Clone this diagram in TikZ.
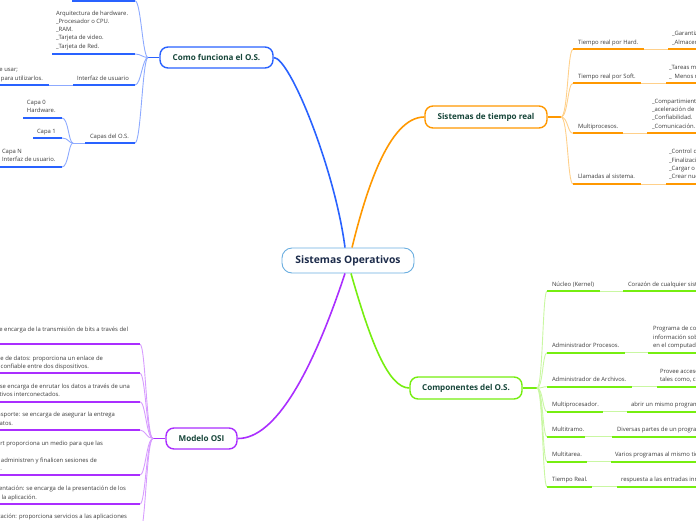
\documentclass[tikz,border=0pt]{standalone}
\usepackage{fontspec}
\setmainfont{Open Sans}
\usetikzlibrary{calc}
\definecolor{bluec}{HTML}{2962FF}
\definecolor{bluel}{HTML}{8DAAFF}
\definecolor{orc}{HTML}{FF9800}
\definecolor{orl}{HTML}{FFD08A}
\definecolor{grc}{HTML}{76EE10}
\definecolor{grl}{HTML}{C9F7A2}
\definecolor{puc}{HTML}{AA2EFF}
\definecolor{pul}{HTML}{D79CFF}
\definecolor{centc}{HTML}{6AAEE0}
\definecolor{centt}{HTML}{1C2B4A}
\definecolor{brtxt}{HTML}{17463A}
\definecolor{smtxt}{HTML}{3C3C3C}
\begin{document}
\begin{tikzpicture}[x=1pt,y=-1pt,
  central/.style={draw=centc, fill=white, line width=0.9pt, rounded corners=10pt,
    minimum width=132pt, minimum height=25pt, inner sep=0pt,
    font=\fontsize{10.3}{12}\selectfont\bfseries, text=centt},
  branch/.style={fill=white, rounded corners=8pt, line width=1.4pt, inner sep=0pt,
    font=\fontsize{8.1}{10}\selectfont\bfseries, text=brtxt},
  sm/.style={font=\fontsize{5.9}{8.3}\selectfont, text=smtxt, inner sep=0pt, outer sep=0pt},
  lw/.style={sm, anchor=base west},
  le/.style={sm, anchor=base east},
  mainlink/.style={line width=1.6pt},
  ul/.style={line width=2pt},
  thinl/.style={line width=0.9pt}]
\useasboundingbox (0,0) rectangle (696,520);
\clip (0,0) rectangle (696,520);

% ---------- nodes (main) ----------
\node[central] (c) at (348,260.5) {Sistemas Operativos};
\node[branch, draw=bluec, minimum width=113pt, minimum height=21pt] (cf) at (216.5,57.5) {Como funciona el O.S.};
\node[branch, draw=orc, minimum width=122pt, minimum height=22pt] (st) at (486,117) {Sistemas de tiempo real};
\node[branch, draw=grc, minimum width=112pt, minimum height=22pt] (co) at (466,388) {Componentes del O.S.};
\node[branch, draw=puc, minimum width=71pt, minimum height=21pt] (mo) at (201.5,438.5) {Modelo OSI};

% ---------- main links ----------
\draw[mainlink, bluec] ($(c.north)+(-3,0)$) .. controls (335,170) and (290,57.5) .. (cf.east);
\draw[mainlink, orc] ($(c.north)+(4,0)$) .. controls (365,195) and (388,117) .. (st.west);
\draw[mainlink, grc] ($(c.south)+(3,0)$) .. controls (370,340) and (388,388) .. (co.west);
\draw[mainlink, puc] ($(c.south)+(-3,0)$) .. controls (312,373) and (275,439) .. (mo.east);

% ---------- Como funciona el O.S. ----------
\coordinate (hb) at (148,57.5);
\draw[line width=1.4pt, bluec] (cf.west) -- (hb);
\foreach \y in {0.8,54,85,143}
  \draw[thinl, bluel] (hb) .. controls (142.5,57.5) and (141,\y) .. (135,\y);
\draw[ul, bluec] (72,0.8) -- (135,0.8);
\draw[ul, bluec] (52,54) -- (135,54);
\draw[ul, bluec] (73,85) -- (135,85);
\draw[ul, bluec] (85,143) -- (135,143);
\node[lw] (hw1) at (56,15) {Arquitectura de hardware.};
\node[lw] (hw2) at (56,23.3) {\_Procesador o CPU.};
\node[lw] (hw3) at (56,31.6) {\_RAM.};
\node[lw] (hw4) at (56,39.9) {\_Tarjeta de video.};
\node[lw] (hw5) at (56,48.2) {\_Tarjeta de Red.};
\node[lw] (iu) at (77,80) {Interfaz de usuario};
\draw[thinl, bluel] (73,85) -- (49,85);
\draw[ul, bluec] (49,85) -- (-2,85);
\node[le] (iu1) at (18,71.7) {Permite al usuario la facilidad de usar;};
\node[le] (iu2) at (43,80) {los programas para utilizarlos.};
\node[lw] (cp) at (90,138) {Capas del O.S.};
\draw[thinl, bluel] (85,143) -- (73,143);
\foreach \y in {118,138,167}
  \draw[thinl, bluel] (73,143) .. controls (68.5,143) and (68.5,\y) .. (62,\y);
\draw[ul, bluec] (23,118) -- (62,118);
\draw[ul, bluec] (33,138) -- (62,138);
\draw[ul, bluec] (-2,167) -- (62,167);
\node[lw] (c0a) at (27,104.5) {Capa 0};
\node[lw] (c0b) at (27,112.8) {Hardware.};
\node[lw] (c1) at (37,133) {Capa 1};
\node[lw] (cna) at (2,153.5) {Capa N};
\node[lw] (cnb) at (2,161.8) {Interfaz de usuario.};

% ---------- Sistemas de tiempo real ----------
\coordinate (ho) at (561,117);
\draw[line width=1.4pt, orc] (st.east) -- (ho);
\foreach \y in {49.3,83.3,133.3,184}
  \draw[thinl, orl] (ho) .. controls (568,117) and (567.5,\y) .. (573,\y);
\draw[ul, orc] (573,49.3) -- (644,49.3);  \draw[thinl, orl] (644,49.3) -- (668,49.3);  \draw[ul, orc] (668,49.3) -- (700,49.3);
\draw[ul, orc] (573,83.3) -- (641,83.3);  \draw[thinl, orl] (641,83.3) -- (666,83.3);  \draw[ul, orc] (666,83.3) -- (700,83.3);
\draw[ul, orc] (573,133.3) -- (623,133.3); \draw[thinl, orl] (623,133.3) -- (647,133.3); \draw[ul, orc] (647,133.3) -- (700,133.3);
\draw[ul, orc] (573,184) -- (641,184);    \draw[thinl, orl] (641,184) -- (666,184);    \draw[ul, orc] (666,184) -- (700,184);
\node[lw] (th) at (578,44) {Tiempo real por Hard.};
\node[lw] (th1) at (672,35.7) {\_Garantiza};
\node[lw] (th2) at (672,44) {\_Almacenamiento};
\node[lw] (ts) at (578,78) {Tiempo real por Soft.};
\node[lw] (ts1) at (669,69.7) {\_Tareas menos};
\node[lw] (ts2) at (669,78) {\_\ \ Menos restrictivo.};
\node[lw] (mp) at (578,128) {Multiprocesos.};
\node[lw] (mp1) at (652,103) {\_Compartimiento de recursos.};
\node[lw] (mp2) at (652,111.3) {\_aceleración de cálculos.};
\node[lw] (mp3) at (652,119.6) {\_Confiabilidad.};
\node[lw] (mp4) at (652,128) {\_Comunicación.};
\node[lw] (ll) at (578,178.7) {Llamadas al sistema.};
\node[lw] (ll1) at (669,153.8) {\_Control de procesos.};
\node[lw] (ll2) at (669,162.1) {\_Finalización};
\node[lw] (ll3) at (669,170.4) {\_Cargar o ejecutar.};
\node[lw] (ll4) at (669,178.7) {\_Crear nuevos procesos.};

% ---------- Componentes del O.S. ----------
\coordinate (hg) at (537,388);
\draw[line width=1.4pt, grc] (co.east) -- (hg);
\foreach \y in {291,352.7,386.7,411.7,436.7,461.7,486.7}
  \draw[thinl, grl] (hg) .. controls (543,388) and (542.5,\y) .. (547,\y);
\draw[ul, grc] (547,291) -- (600,291);     \draw[thinl, grl] (600,291) -- (623,291);     \draw[ul, grc] (623,291) -- (700,291);
\draw[ul, grc] (547,352.7) -- (625,352.7); \draw[thinl, grl] (625,352.7) -- (648,352.7); \draw[ul, grc] (648,352.7) -- (700,352.7);
\draw[ul, grc] (547,386.7) -- (632,386.7); \draw[thinl, grl] (632,386.7) -- (657,386.7); \draw[ul, grc] (657,386.7) -- (700,386.7);
\draw[ul, grc] (547,411.7) -- (603,411.7); \draw[thinl, grl] (603,411.7) -- (627,411.7); \draw[ul, grc] (627,411.7) -- (700,411.7);
\draw[ul, grc] (547,436.7) -- (585,436.7); \draw[thinl, grl] (585,436.7) -- (612,436.7); \draw[ul, grc] (612,436.7) -- (700,436.7);
\draw[ul, grc] (547,461.7) -- (587,461.7); \draw[thinl, grl] (587,461.7) -- (611,461.7); \draw[ul, grc] (611,461.7) -- (700,461.7);
\draw[ul, grc] (547,486.7) -- (592,486.7); \draw[thinl, grl] (592,486.7) -- (617,486.7); \draw[ul, grc] (617,486.7) -- (700,486.7);
\node[lw] (nk) at (552,286) {Núcleo (Kernel)};
\node[lw] (nk1) at (628,286) {Corazón de cualquier sistema operativo.};
\node[lw] (ap) at (552,347.7) {Administrador Procesos.};
\node[lw] (ap1) at (653,330.5) {Programa de control que};
\node[lw] (ap2) at (653,339.1) {información sobre los procesos};
\node[lw] (ap3) at (653,347.7) {en el computador.};
\node[lw] (aa) at (552,381.7) {Administrador de Archivos.};
\node[lw] (aa1) at (660,373.4) {Provee acceso a los archivos,};
\node[lw] (aa2) at (660,381.7) {tales como, crear y eliminar.};
\node[lw] (mu) at (552,406.7) {Multiprocesador.};
\node[lw] (mu1) at (631,406.7) {abrir un mismo programa en varios procesadores.};
\node[lw] (mt) at (552,431.7) {Multitramo.};
\node[lw] (mt1) at (617,431.7) {Diversas partes de un programa al mismo tiempo.};
\node[lw] (ma) at (552,456.7) {Multitarea.};
\node[lw] (ma1) at (615,456.7) {Varios programas al mismo tiempo.};
\node[lw] (tr) at (552,481.7) {Tiempo Real.};
\node[lw] (tr1) at (621,481.7) {respuesta a las entradas inmediatas.};

% ---------- Modelo OSI ----------
\coordinate (hp) at (153,438.5);
\draw[line width=1.4pt, puc] (mo.west) -- (hp);
\foreach \y in {344.3,373.3,401.7,430,475,504,532}
  \draw[thinl, pul] (hp) .. controls (146.5,438.5) and (145.5,\y) .. (140,\y);
\foreach \y in {344.3,373.3,401.7,430,475,504,532}
  \draw[ul, puc] (-2,\y) -- (140,\y);
\node[le] (o1a) at (128,331) {Capa física: se encarga de la transmisión de bits a través del};
\node[le] (o2a) at (103,360) {Capa de enlace de datos: proporciona un enlace de};
\node[le] (o2b) at (89,368.3) {comunicación confiable entre dos dispositivos.};
\node[le] (o3a) at (130,388.4) {Capa de red: se encarga de enrutar los datos a través de una};
\node[le] (o3b) at (60,396.7) {red de dispositivos interconectados.};
\node[le] (o4a) at (115,416.7) {Capa de transporte: se encarga de asegurar la entrega};
\node[le] (o4b) at (13,425) {confiable de los datos.};
\node[le] (o5a) at (103,445) {Capa de sesión: Support proporciona un medio para que las};
\node[le] (o5c) at (97,462) {aplicaciones establezcan, administren y finalicen sesiones de};
\node[le] (o5d) at (2,470.5) {comunicación.};
\node[le] (o6a) at (126,490.7) {Capa de presentación: se encarga de la presentación de los};
\node[le] (o6b) at (37,499) {datos a la aplicación.};
\node[le] (o7a) at (127,518.5) {Capa de aplicación: proporciona servicios a las aplicaciones};
\end{tikzpicture}
\end{document}
